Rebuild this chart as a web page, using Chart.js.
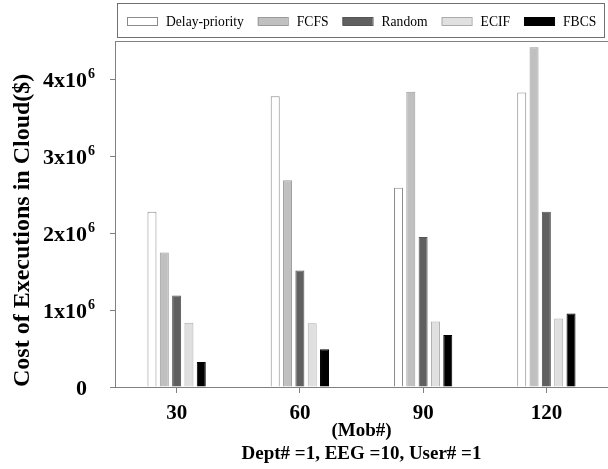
<!DOCTYPE html>
<html>
<head>
<meta charset="utf-8">
<script src="https://cdn.jsdelivr.net/npm/chart.js@4/dist/chart.umd.min.js"></script>
<style>
  html, body { margin: 0; padding: 0; background: #fff; }
  canvas { display: block; }
</style>
</head>
<body>
<canvas id="c" width="608" height="469"></canvas>
<script>
// Number of mobile devices on the x axis
const mobCounts = ['30', '60', '90', '120'];

// Cost of executions in the cloud ($) for each scheduling policy
const delayPriority = [2280000, 3780000, 2590000, 3830000];
const fcfs          = [1750000, 2690000, 3840000, 4420000];
const random        = [1190000, 1515000, 1950000, 2280000];
const ecif          = [835000,  830000,  853000,  890000];
const fbcs          = [325000,  490000,  675000,  957000];

const seriesNames = ['Delay-priority', 'FCFS', 'Random', 'ECIF', 'FBCS'];

// Y axis tick values and their labels (mantissa, exponent)
const yTickValues = [0, 1000000, 2000000, 3000000, 4000000];
const yTickBase   = ['0', '1x10', '2x10', '3x10', '4x10'];
const yTickExp    = ['', '6', '6', '6', '6'];

const fills   = ['#ffffff', '#c0c0c0', '#606060', '#e0e0e0', '#000000'];
const borders = ['#8a8a8a', '#9a9a9a', '#555555', '#ababab', '#000000'];
const values  = [delayPriority, fcfs, random, ecif, fbcs];

const SERIF = '"Liberation Serif", "Times New Roman", serif';

// Frame line along the top of the plot, boxed legend and the y tick labels
const decorations = {
  id: 'decorations',
  afterDraw(chart) {
    const ctx = chart.ctx;
    const area = chart.chartArea;
    ctx.save();

    // top frame line
    ctx.strokeStyle = '#808080';
    ctx.lineWidth = 1;
    ctx.beginPath();
    ctx.moveTo(area.left, area.top + 0.5);
    ctx.lineTo(area.right, area.top + 0.5);
    ctx.stroke();

    // legend
    ctx.strokeStyle = '#707070';
    ctx.strokeRect(117.5, 3.5, 487, 34);
    ctx.font = '13.6px ' + SERIF;
    ctx.textBaseline = 'middle';
    ctx.textAlign = 'left';
    let x = 127;
    const cy = 21;
    chart.data.datasets.forEach(ds => {
      ctx.fillStyle = ds.backgroundColor;
      ctx.fillRect(x, cy - 4, 30, 8);
      ctx.strokeStyle = ds.borderColor;
      ctx.strokeRect(x + 0.5, cy - 4 + 0.5, 30, 8);
      x += 39;
      ctx.fillStyle = '#000';
      ctx.fillText(ds.label, x, cy + 1);
      x += ctx.measureText(ds.label).width + 14;
    });

    // y tick labels with superscript exponent
    const yScale = chart.scales.y;
    ctx.fillStyle = '#000';
    ctx.textBaseline = 'alphabetic';
    yTickValues.forEach((v, i) => {
      const py = yScale.getPixelForValue(v);
      const rightEdge = 87;
      ctx.font = 'bold 22px ' + SERIF;
      ctx.textAlign = 'right';
      ctx.fillText(yTickBase[i], rightEdge, py + 8);
      if (yTickExp[i]) {
        ctx.font = 'bold 14px ' + SERIF;
        ctx.textAlign = 'left';
        ctx.fillText(yTickExp[i], rightEdge + 1, py - 1);
      }
    });
    ctx.restore();
  }
};

new Chart(document.getElementById('c'), {
  type: 'bar',
  data: {
    labels: mobCounts,
    datasets: seriesNames.map((name, i) => ({
      label: name,
      data: values[i],
      backgroundColor: fills[i],
      borderColor: borders[i],
      borderWidth: 1,
      categoryPercentage: 0.5,
      barPercentage: 0.73
    }))
  },
  options: {
    responsive: false,
    devicePixelRatio: 1,
    animation: false,
    layout: { padding: { top: 41, left: 0, right: 0, bottom: 0 } },
    plugins: {
      legend: { display: false },
      tooltip: { enabled: false }
    },
    scales: {
      x: {
        grid: {
          offset: false,
          drawOnChartArea: false,
          drawTicks: true,
          tickLength: 6,
          color: '#808080'
        },
        border: { color: '#808080', width: 1 },
        ticks: {
          color: '#000',
          padding: 8,
          font: { family: SERIF, size: 21, weight: 'bold' }
        },
        title: {
          display: true,
          text: ['(Mob#)', 'Dept# =1, EEG =10, User# =1'],
          color: '#000',
          font: { family: SERIF, size: 19, weight: 'bold', lineHeight: 1.2 },
          padding: { top: 0, bottom: 4 }
        },
        afterFit(scale) { scale.height = 82; }
      },
      y: {
        min: 0,
        max: 4500000,
        afterBuildTicks(scale) {
          scale.ticks = yTickValues.map(v => ({ value: v }));
        },
        grid: {
          drawOnChartArea: false,
          drawTicks: true,
          tickLength: 5,
          color: '#808080'
        },
        border: { color: '#808080', width: 1 },
        ticks: { display: false },
        title: {
          display: true,
          align: 'start',
          text: 'Cost of Executions in Cloud($)',
          color: '#000',
          font: { family: SERIF, size: 24, weight: 'bold' },
          padding: { top: 8, bottom: 0 }
        },
        afterFit(scale) { scale.width = 115; }
      }
    }
  },
  plugins: [decorations]
});
</script>
</body>
</html>
